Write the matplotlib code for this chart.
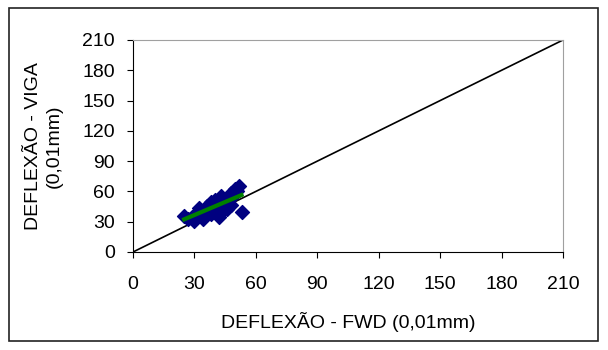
import numpy as np
import matplotlib
matplotlib.use("Agg")
import matplotlib.pyplot as plt
from matplotlib.patches import Rectangle

plt.rcParams["font.family"] = ["Liberation Sans", "DejaVu Sans"]

# deflexões medidas (0,01 mm)
fwd = [25, 27, 29, 30, 31, 32, 33, 34, 35, 36, 37, 38, 39, 40, 41, 42, 43,
       44, 45, 46, 47, 48, 49, 50, 51, 52, 53, 48, 44, 38]
viga = [36, 33, 35, 31, 38, 44, 40, 33, 42, 46, 40, 50, 45, 52, 47, 35, 55,
        48, 50, 43, 53, 58, 55, 62, 60, 65, 40, 47, 42, 38]
ticks = [0, 30, 60, 90, 120, 150, 180, 210]

fig = plt.figure(figsize=(6.08, 3.5), dpi=100)
fig.patches.append(Rectangle((9 / 608, 9 / 350), 589 / 608, 333 / 350,
                             transform=fig.transFigure, fill=False,
                             edgecolor="#222222", linewidth=1.2))
ax = fig.add_axes([133 / 608, 1 - 252 / 350, 430 / 608, 212 / 350])

ax.plot([0, 210], [0, 210], color="black", linewidth=1.2, zorder=2)
ax.scatter(fwd, viga, marker="D", s=50, color="#000080", zorder=3)
a, b = np.polyfit(fwd, viga, 1)
xl = np.array([min(fwd), max(fwd)])
ax.plot(xl, a * xl + b, color="#008000", linewidth=3, zorder=4)

ax.set_xlim(0, 210)
ax.set_ylim(0, 210)
ax.set_xticks(ticks)
ax.set_yticks(ticks)
ax.tick_params(labelsize=14, length=4, direction="out", width=0.8)
ax.tick_params(axis="x", pad=13)
ax.tick_params(axis="y", pad=9)
for s in ["top", "right"]:
    ax.spines[s].set_color("#a0a0a0")
ax.set_xlabel("DEFLEXÃO - FWD (0,01mm)", fontsize=14, labelpad=14)
ax.set_ylabel("DEFLEXÃO - VIGA\n(0,01mm)", fontsize=14, labelpad=14,
              linespacing=1.3)

fig.savefig("out.png", dpi=100)
